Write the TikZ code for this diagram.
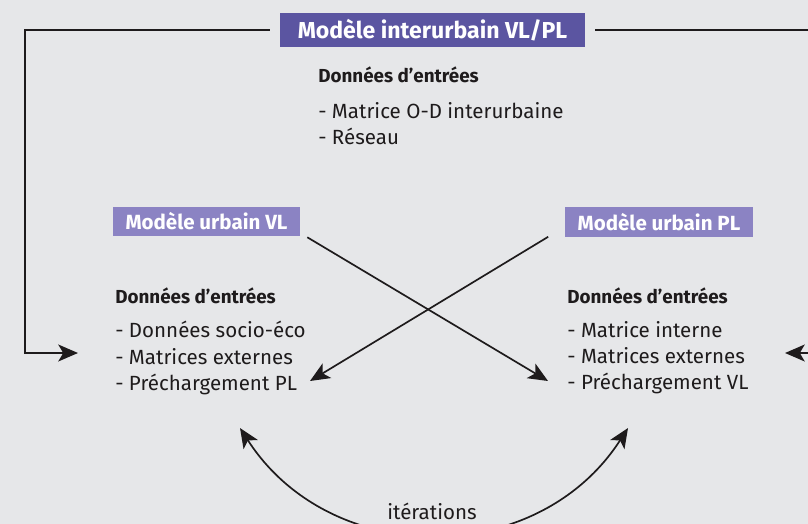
\documentclass[tikz,border=0pt]{standalone}
\usepackage{fontspec}
\setmainfont{Fira Sans}
\usetikzlibrary{arrows.meta,calc}
\definecolor{fond}{HTML}{E6E7E9}
\definecolor{violetfonce}{HTML}{5B55A1}
\definecolor{violetclair}{HTML}{8B83C3}
\definecolor{trait}{HTML}{1E1B1C}
\tikzset{
  titre/.style={fill=violetfonce, text=white, font=\bfseries\fontsize{16.4}{18}\selectfont,
    minimum width=7.625cm, minimum height=0.825cm, inner sep=0pt, outer sep=0.25cm},
  urbain/.style={fill=violetclair, text=white, font=\bfseries\fontsize{14.6}{16}\selectfont,
    minimum width=4.675cm, minimum height=0.725cm, inner sep=0pt},
  entete/.style={anchor=west, inner sep=0pt, text=trait, font=\bfseries\fontsize{13.4}{16}\selectfont},
  liste/.style={anchor=west, inner sep=0pt, align=left, text=trait, font=\fontsize{14.6}{18.6}\selectfont},
  cadre/.style={draw=trait, line width=1.4pt},
  fleche/.style={draw=trait, line width=1.2pt},
  bout/.tip={Stealth[length=14pt, width=12pt, inset=3.5pt]}
}
\begin{document}
\begin{tikzpicture}[x=0.025cm,y=-0.025cm]
\useasboundingbox (0,0) rectangle (808,524);
\fill[fond] (0,0) rectangle (808,524);
\clip (0,0) rectangle (808,524);

\node[titre] (inter) at (432.5,30) {Modèle interurbain VL/PL};
\node[entete] (hInter) at (318,75) {Données d’entrées};
\node[liste] (lInter) at (318,123.5) {- Matrice O-D interurbaine\\- Réseau};

\node[urbain] (vl) at (206.5,221.5) {Modèle urbain VL};
\node[entete] (hVL) at (115,296) {Données d’entrées};
\node[liste] (lVL) at (115,358) {- Données socio-éco\\- Matrices externes\\- Préchargement PL};

\node[urbain] (pl) at (659,222) {Modèle urbain PL};
\node[entete] (hPL) at (567,296) {Données d’entrées};
\node[liste] (lPL) at (567,358) {- Matrice interne\\- Matrices externes\\- Préchargement VL};

\coordinate (coinG) at (25,353);
\coordinate (coinD) at (840,353);
\coordinate (entreeG) at (78,353);
\coordinate (entreeD) at (785,353);
\coordinate (iterG) at (240,428);
\coordinate (iterD) at (628,428);
\node[liste, anchor=center] (iter) at (432,511) {itérations};

\draw[cadre,-bout] (inter.west) -| (coinG) -- (entreeG);
\draw[cadre,-bout] (inter.east) -| (coinD) -- (entreeD);
\draw[fleche,-bout] ($(vl.south east)+(7,1)$) -- ($(lPL.west)+(-19,23)$);
\draw[fleche,-bout] ($(pl.south west)+(-17,0)$) -- ($(lVL.west)+(195,23)$);
\draw[fleche,bout-bout] (iterG) .. controls ($(iterG)+(90.7,140.8)$) and ($(iterD)+(-90.7,140.8)$) .. (iterD);
\end{tikzpicture}
\end{document}
